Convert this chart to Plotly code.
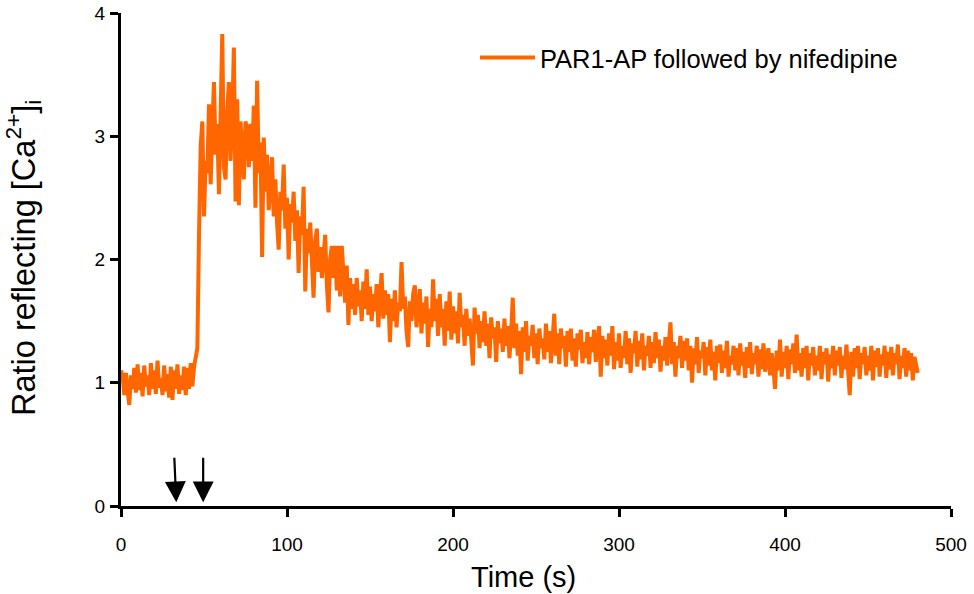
import plotly.graph_objects as go

# Sampling times (s), one reading per second
time_s = list(range(0, 481))

# Ratio reflecting [Ca2+]i (1 s steps)
ratio = [
    1.10, 1.05, 0.90, 1.08, 0.93, 0.82, 1.06, 0.95, 1.12, 0.92,
    1.15, 0.94, 1.08, 0.89, 1.14, 0.97, 1.06, 0.90, 1.16, 0.95,
    1.10, 0.91, 1.18, 0.96, 1.04, 0.90, 1.14, 0.93, 1.07, 0.88,
    1.13, 0.86, 1.10, 0.95, 1.15, 0.91, 1.06, 0.94, 1.13, 0.90,
    1.12, 0.95, 1.16, 0.97, 1.13, 1.22, 1.28, 2.20, 2.92, 3.12,
    2.35, 2.80, 2.70, 3.26, 2.61, 3.05, 3.44, 2.85, 3.10, 2.53,
    3.41, 3.83, 2.75, 2.65, 3.20, 3.44, 2.80, 3.15, 3.72, 2.47,
    3.30, 2.44, 3.12, 2.90, 2.65, 3.12, 3.05, 2.75, 3.10, 2.80,
    3.25, 2.42, 3.45, 2.70, 2.95, 2.02, 2.99, 2.55, 2.85, 2.40,
    2.60, 2.83, 2.35, 2.65, 2.30, 2.08, 2.55, 2.40, 2.77, 2.25,
    2.50, 2.00, 2.45, 2.30, 2.55, 2.15, 2.40, 1.89, 2.35, 2.20,
    2.59, 1.74, 2.25, 2.05, 2.30, 1.95, 1.69, 2.15, 2.25, 1.90,
    2.10, 1.85, 2.05, 2.20, 1.80, 1.57, 2.00, 2.11, 1.85, 2.11,
    1.75, 2.11, 1.70, 2.11, 1.90, 1.65, 1.95, 1.47, 1.85, 1.60,
    1.80, 1.55, 1.85, 1.62, 1.75, 1.50, 1.82, 1.60, 1.92, 1.55,
    1.78, 1.50, 1.72, 1.58, 1.80, 1.45, 1.70, 1.89, 1.52, 1.75,
    1.55, 1.72, 1.33, 1.68, 1.50, 1.75, 1.45, 1.65, 1.58, 1.98,
    1.60, 1.70, 1.42, 1.29, 1.66, 1.50, 1.72, 1.79, 1.45, 1.62,
    1.76, 1.40, 1.65, 1.48, 1.70, 1.29, 1.60, 1.45, 1.84, 1.50,
    1.68, 1.38, 1.72, 1.45, 1.60, 1.30, 1.66, 1.42, 1.74, 1.35,
    1.62, 1.40, 1.58, 1.32, 1.73, 1.45, 1.55, 1.30, 1.60, 1.38,
    1.52, 1.35, 1.14, 1.61, 1.40, 1.55, 1.28, 1.50, 1.33, 1.58,
    1.30, 1.48, 1.20, 1.53, 1.36, 1.45, 1.17, 1.50, 1.32, 1.44,
    1.25, 1.52, 1.30, 1.46, 1.20, 1.40, 1.69, 1.28, 1.48, 1.22,
    1.42, 1.07, 1.45, 1.25, 1.50, 1.18, 1.38, 1.30, 1.47, 1.20,
    1.40, 1.15, 1.44, 1.28, 1.36, 1.19, 1.48, 1.25, 1.42, 1.16,
    1.35, 1.56, 1.22, 1.40, 1.15, 1.44, 1.28, 1.38, 1.13, 1.42,
    1.25, 1.44, 1.18, 1.36, 1.13, 1.40, 1.27, 1.43, 1.16, 1.33,
    1.20, 1.41, 1.15, 1.37, 1.25, 1.43, 1.17, 1.32, 1.46, 1.05,
    1.38, 1.20, 1.35, 1.14, 1.40, 1.22, 1.46, 1.11, 1.33, 1.18,
    1.40, 1.12, 1.30, 1.20, 1.42, 1.15, 1.36, 1.08, 1.32, 1.24,
    1.42, 1.13, 1.34, 1.19, 1.40, 1.10, 1.30, 1.22, 1.38, 1.12,
    1.33, 1.16, 1.41, 1.20, 1.35, 1.09, 1.30, 1.18, 1.37, 1.14,
    1.28, 1.49, 1.15, 1.33, 1.05, 1.30, 1.20, 1.38, 1.12, 1.34,
    1.18, 1.36, 1.10, 1.30, 1.00, 1.28, 1.15, 1.37, 1.08, 1.26,
    1.20, 1.33, 1.06, 1.29, 1.14, 1.35, 1.10, 1.25, 1.02, 1.30,
    1.16, 1.31, 1.08, 1.26, 1.12, 1.34, 1.05, 1.22, 1.15, 1.30,
    1.10, 1.28, 1.06, 1.32, 1.14, 1.25, 1.04, 1.29, 1.12, 1.33,
    1.07, 1.24, 1.15, 1.30, 1.05, 1.27, 1.11, 1.32, 1.09, 1.22,
    1.28, 1.06, 1.24, 1.12, 0.95, 1.26, 1.10, 1.35, 1.05, 1.25,
    1.12, 1.30, 1.03, 1.27, 1.15, 1.32, 1.08, 1.39, 1.10, 1.24,
    1.05, 1.28, 1.12, 1.30, 1.02, 1.24, 1.14, 1.29, 1.06, 1.22,
    1.10, 1.30, 1.03, 1.25, 1.15, 1.28, 1.01, 1.23, 1.12, 1.30,
    1.06, 1.26, 1.14, 1.29, 1.04, 1.22, 1.11, 1.31, 1.08, 0.90,
    1.25, 1.05, 1.28, 1.12, 1.30, 1.03, 1.24, 1.15, 1.29, 1.06,
    1.22, 1.10, 1.30, 1.02, 1.26, 1.13, 1.28, 1.05, 1.23, 1.14,
    1.30, 1.04, 1.25, 1.11, 1.29, 1.06, 1.24, 1.15, 1.31, 1.03,
    1.22, 1.12, 1.28, 1.05, 1.26, 1.10, 1.24, 1.02, 1.21, 1.15,
    1.08,
]

series_name = "PAR1-AP followed by nifedipine"
x_ticks = [0, 100, 200, 300, 400, 500]
y_ticks = [0, 1, 2, 3, 4]

# Additions marked by arrows (tail -> head), in data units
arrow_head_x = [33.3, 49.5]
arrow_tail_x = [31.9, 49.5]
arrow_tail_y = 0.46
arrow_head_y = 0.03

FONT = "Liberation Sans, Arial, sans-serif"
ORANGE = "#FF6600"

fig = go.Figure()
fig.add_trace(go.Scatter(
    x=time_s, y=ratio, mode="lines", name=series_name,
    line=dict(color=ORANGE, width=4),
))

for hx, tx in zip(arrow_head_x, arrow_tail_x):
    fig.add_annotation(
        x=hx, y=arrow_head_y, ax=tx, ay=arrow_tail_y,
        xref="x", yref="y", axref="x", ayref="y",
        showarrow=True, arrowhead=2, arrowsize=1.9, arrowwidth=2.2,
        arrowcolor="black", text=" ", standoff=0,
    )

fig.add_annotation(
    text="Time (s)", xref="paper", yref="paper",
    x=(523 - 121) / 830, y=-(577 - 506) / 493,
    xanchor="center", yanchor="middle", showarrow=False,
    font=dict(family=FONT, size=29, color="black"),
)
fig.add_annotation(
    text="Ratio reflecting [Ca<sup>2+</sup>]<sub>i</sub>",
    xref="paper", yref="paper",
    x=-(121 - 23) / 830, y=(506 - 258) / 493,
    xanchor="center", yanchor="middle", showarrow=False, textangle=-90,
    font=dict(family=FONT, size=32.5, color="black"),
)

axis_common = dict(
    showline=True, linecolor="black", linewidth=3,
    ticks="outside", tickcolor="black", tickwidth=3, ticklen=8,
    showgrid=False, zeroline=False, automargin=False,
    tickfont=dict(family=FONT, size=19, color="black"),
)

left = 121
top = 13
fig.update_layout(
    width=974, height=594, autosize=False,
    margin=dict(l=left, r=974 - left - 830, t=top, b=594 - top - 493, autoexpand=False),
    paper_bgcolor="white", plot_bgcolor="white",
    font=dict(family=FONT, color="black"),
    showlegend=True,
    legend=dict(
        x=(475 - 121) / 830, y=(506 - 58) / 493,
        xanchor="left", yanchor="middle",
        bgcolor="rgba(0,0,0,0)", itemwidth=55,
        font=dict(family=FONT, size=25.5, color="black"),
    ),
    xaxis=dict(range=[0, 500], tickvals=x_ticks, ticklabelstandoff=11, **axis_common),
    yaxis=dict(range=[0, 4], tickvals=y_ticks, ticklabelstandoff=1, **axis_common),
)

# Remove the browser's default page margin so the figure sits at the window's corner
fig.write_html(
    "out.html",
    config={"displayModeBar": False},
    post_script="document.body.style.margin='0';",
)
